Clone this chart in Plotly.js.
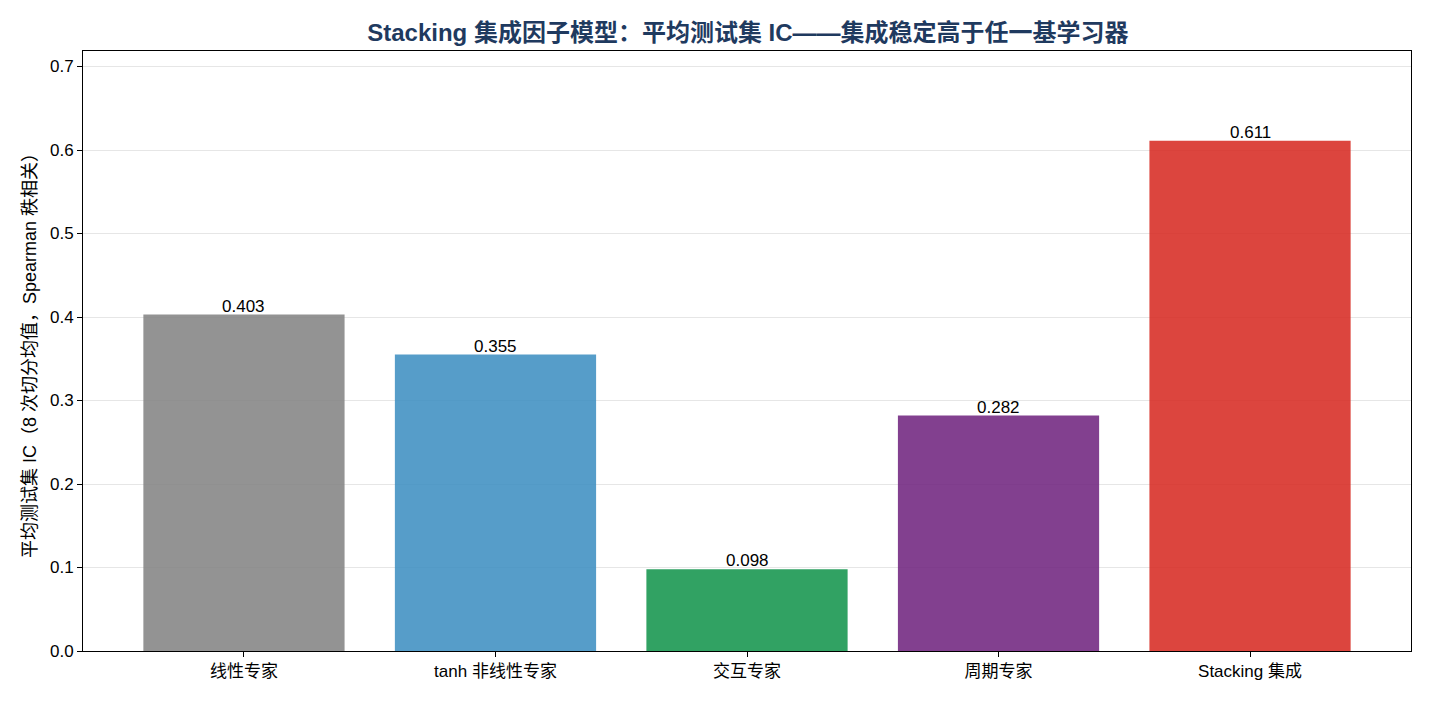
<!DOCTYPE html>
<html><head><meta charset="utf-8">
<script src="https://cdn.plot.ly/plotly-3.0.1.min.js"></script>
<style>html,body{margin:0;padding:0;background:#fff;}#chart{width:1430px;height:702px;}</style>
</head><body><div id="chart"></div>
<script>
const categories = ["线性专家", "tanh 非线性专家", "交互专家", "周期专家", "Stacking 集成"];
const icValues = [0.403, 0.355, 0.098, 0.282, 0.611];
const barColors = ["#848484", "#3F90C2", "#14954D", "#71257F", "#D72B23"];
const valueLabels = icValues.map(v => v.toFixed(3));
const yTicks = [0, 0.1, 0.2, 0.3, 0.4, 0.5, 0.6, 0.7];

const font = '"Liberation Sans", "Noto Sans CJK SC", sans-serif';
const xIdx = categories.map((c, i) => i);

const trace = {
  type: 'bar', x: xIdx, y: icValues, width: 0.8,
  marker: {color: barColors, opacity: 0.88, line: {width: 0}},
  hoverinfo: 'skip'
};

const annotations = xIdx.map(i => ({
  x: i, y: icValues[i], xref: 'x', yref: 'y', text: valueLabels[i], showarrow: false,
  xanchor: 'center', yanchor: 'bottom', yshift: -3,
  font: {family: font, size: 17, color: '#000'}
}));

const layout = {
  width: 1430, height: 702,
  margin: {l: 83, r: 19, t: 51, b: 51},
  paper_bgcolor: '#fff', plot_bgcolor: '#fff',
  font: {family: font, size: 17, color: '#000'},
  title: {text: 'Stacking 集成因子模型：平均测试集 IC——集成稳定高于任一基学习器',
    font: {family: font, size: 24, color: '#1f3a5f', weight: 'bold'}, x: 0.523, xanchor: 'center', y: 0.953, yanchor: 'middle'},
  showlegend: false,
  annotations: annotations,
  xaxis: {range: [-0.64, 4.64], tickvals: xIdx, ticktext: categories, showgrid: false, zeroline: false,
    showline: true, linecolor: '#000', linewidth: 1, mirror: true, ticks: 'outside', ticklen: 5, tickcolor: '#000',
    tickfont: {family: font, size: 17, color: '#000'}},
  yaxis: {range: [0, 0.7186], tickvals: yTicks, ticktext: yTicks.map(v => v.toFixed(1)), showgrid: true, gridcolor: '#e6e6e6', gridwidth: 1,
    zeroline: false, showline: true, linecolor: '#000', linewidth: 1, mirror: true, ticks: 'outside', ticklen: 5, tickcolor: '#000',
    tickfont: {family: font, size: 17, color: '#000'},
    title: {text: '平均测试集 IC（8 次切分均值，Spearman 秩相关）', font: {family: font, size: 18, color: '#000'}, standoff: 8}}
};

Plotly.newPlot('chart', [trace], layout, {displayModeBar: false, staticPlot: true});
</script></body></html>
